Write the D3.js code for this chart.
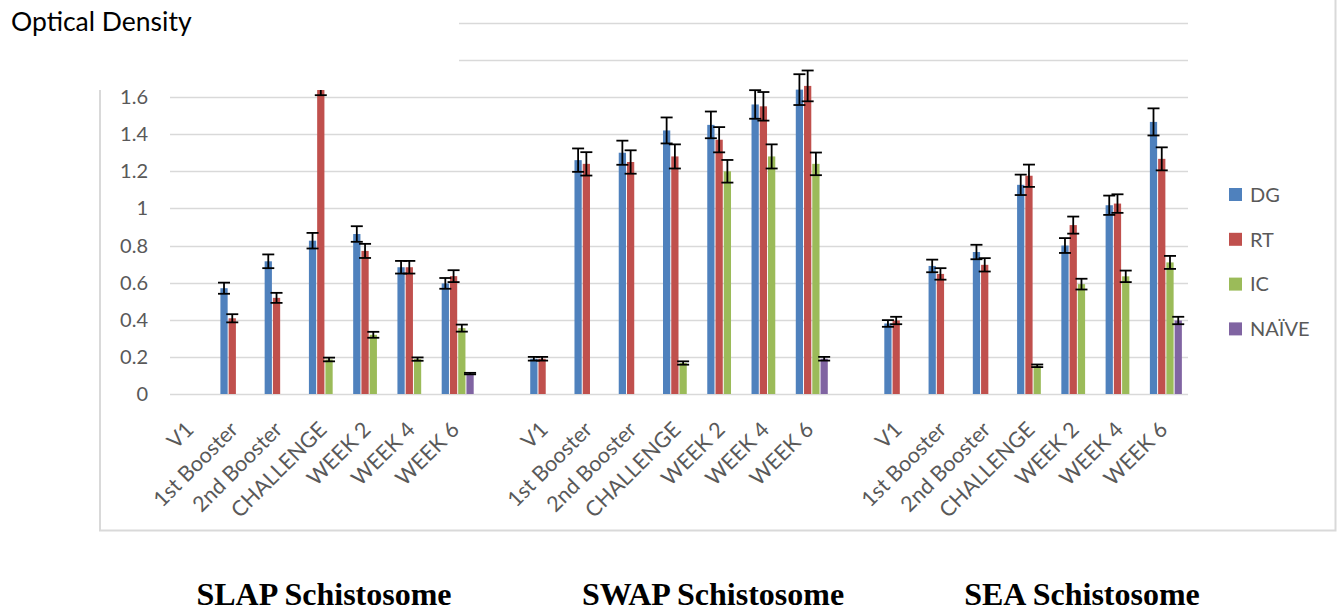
<!DOCTYPE html>
<html>
<head>
<meta charset="utf-8">
<script src="https://cdn.jsdelivr.net/npm/d3@7"></script>
<style>
  html, body { margin: 0; padding: 0; background: #ffffff; }
  svg { display: block; }
</style>
</head>
<body>
<svg id="chart" width="1341" height="611"></svg>
<script>
// ---------------- DATA ----------------
const timepoints = ["V1", "1st Booster", "2nd Booster", "CHALLENGE", "WEEK 2", "WEEK 4", "WEEK 6"];
const antigens = ["SLAP Schistosome", "SWAP Schistosome", "SEA Schistosome"];
const seriesNames = ["DG", "RT", "IC", "NAÏVE"];
const seriesColors = ["#4f81bd", "#c0504d", "#9bbb59", "#8064a2"];
const yTickValues = [0, 0.2, 0.4, 0.6, 0.8, 1, 1.2, 1.4, 1.6];
const yTickLabels = ["0", "0.2", "0.4", "0.6", "0.8", "1", "1.2", "1.4", "1.6"];
const gridValues = [0, 0.2, 0.4, 0.6, 0.8, 1, 1.2, 1.4, 1.6, 1.8, 2];

// values per antigen (SLAP, SWAP, SEA), each over the 7 timepoints (null = no bar)
const dgValues = [
  [null, 0.57, 0.715, 0.826, 0.862, 0.683, 0.596],
  [0.19, 1.26, 1.30, 1.42, 1.45, 1.56, 1.64],
  [0.38, 0.69, 0.765, 1.127, 0.80, 1.017, 1.466]
];
const dgErrors = [
  [null, 0.03, 0.037, 0.042, 0.042, 0.034, 0.029],
  [0.01, 0.063, 0.065, 0.07, 0.072, 0.077, 0.083],
  [0.018, 0.034, 0.039, 0.055, 0.04, 0.052, 0.073]
];
const rtValues = [
  [null, 0.408, 0.518, 1.66, 0.771, 0.683, 0.635],
  [0.19, 1.24, 1.25, 1.28, 1.37, 1.55, 1.66],
  [0.396, 0.647, 0.696, 1.176, 0.91, 1.026, 1.267]
];
const rtErrors = [
  [null, 0.022, 0.027, 0.05, 0.038, 0.034, 0.032],
  [0.01, 0.063, 0.063, 0.065, 0.068, 0.077, 0.083],
  [0.02, 0.031, 0.036, 0.06, 0.046, 0.05, 0.062]
];
const icValues = [
  [null, null, null, 0.186, 0.319, 0.188, 0.355],
  [null, null, null, 0.167, 1.20, 1.28, 1.24],
  [null, null, null, 0.152, 0.592, 0.634, 0.709]
];
const icErrors = [
  [null, null, null, 0.01, 0.016, 0.009, 0.019],
  [null, null, null, 0.009, 0.061, 0.065, 0.061],
  [null, null, null, 0.007, 0.029, 0.031, 0.035]
];
const naiveValues = [
  [null, null, null, null, null, null, 0.11],
  [null, null, null, null, null, null, 0.19],
  [null, null, null, null, null, null, 0.396]
];
const naiveErrors = [
  [null, null, null, null, null, null, 0.004],
  [null, null, null, null, null, null, 0.01],
  [null, null, null, null, null, null, 0.02]
];

// ---------------- BUILD ----------------
const seriesValues = [dgValues, rtValues, icValues, naiveValues];
const seriesErrors = [dgErrors, rtErrors, icErrors, naiveErrors];

const slots = [];
antigens.forEach((a, gi) => {
  if (gi > 0) slots.push({ key: "gap" + gi, gap: true });
  timepoints.forEach((t, ti) => slots.push({ key: a + "|" + t, gap: false, gi, ti, label: t }));
});

const records = [];
slots.filter(s => !s.gap).forEach(s => {
  seriesNames.forEach((sn, si) => {
    const v = seriesValues[si][s.gi][s.ti];
    if (v != null) records.push({ slot: s.key, series: sn, si, value: v, err: seriesErrors[si][s.gi][s.ti] });
  });
});

const svg = d3.select("#chart");
const FONT = "Lato, 'Open Sans', sans-serif";
const GRID = "#d9d9d9";

const plotLeft = 170, plotRight = 1188, plotBottom = 394;
const x0 = d3.scaleBand().domain(slots.map(s => s.key)).range([plotLeft, plotRight]).padding(0);
const groupW = 32;
const x1 = d3.scaleBand().domain(seriesNames).range([0, groupW]).paddingInner(0.12);
const y = d3.scaleLinear().domain([0, 2]).range([plotBottom, 22.8]);
const color = d3.scaleOrdinal().domain(seriesNames).range(seriesColors);

// chart frame
svg.append("rect")
  .attr("x", 100).attr("y", -10).attr("width", 1235.5).attr("height", 540.5)
  .attr("fill", "none").attr("stroke", GRID).attr("stroke-width", 2);

// gridlines
svg.append("g").selectAll("line").data(gridValues).join("line")
  .attr("x1", plotLeft).attr("x2", plotRight)
  .attr("y1", d => Math.round(y(d)) + 0.5).attr("y2", d => Math.round(y(d)) + 0.5)
  .attr("stroke", GRID).attr("stroke-width", 1.4);

// bars
const off = (x0.bandwidth() - groupW) / 2;
svg.append("g").selectAll("rect").data(records).join("rect")
  .attr("x", d => x0(d.slot) + off + x1(d.series))
  .attr("y", d => y(d.value))
  .attr("width", x1.bandwidth())
  .attr("height", d => y(0) - y(d.value))
  .attr("fill", d => color(d.series));

// error bars
const eb = svg.append("g").attr("stroke", "#000").attr("stroke-width", 1.8).attr("fill", "none");
records.forEach(d => {
  const cx = x0(d.slot) + off + x1(d.series) + x1.bandwidth() / 2;
  const yt = y(d.value + d.err), yb = y(d.value - d.err);
  eb.append("line").attr("x1", cx).attr("x2", cx).attr("y1", yt).attr("y2", yb);
  eb.append("line").attr("x1", cx - 6).attr("x2", cx + 6).attr("y1", yt).attr("y2", yt);
  eb.append("line").attr("x1", cx - 6).attr("x2", cx + 6).attr("y1", yb).attr("y2", yb);
});

// white title box covering top-left
svg.append("rect").attr("x", 0).attr("y", 0).attr("width", 459).attr("height", 90).attr("fill", "#fff");
svg.append("text").attr("x", 11).attr("y", 31)
  .attr("font-family", FONT).attr("font-size", 26.5).attr("fill", "#000")
  .text("Optical Density");

// y tick labels
svg.append("g").selectAll("text").data(yTickValues).join("text")
  .attr("x", 148).attr("y", d => y(d)).attr("dy", "0.35em")
  .attr("text-anchor", "end").attr("font-family", FONT).attr("font-size", 20).attr("fill", "#595959")
  .text((d, i) => yTickLabels[i]);

// x tick labels
svg.append("g").selectAll("text").data(slots.filter(s => !s.gap)).join("text")
  .attr("transform", d => `translate(${x0(d.key) + x0.bandwidth() / 2 + 3},${431}) rotate(-45)`)
  .attr("text-anchor", "end").attr("font-family", FONT).attr("font-size", 21.5).attr("fill", "#595959")
  .text(d => d.label);

// legend
const lg = svg.append("g").selectAll("g").data(seriesNames).join("g")
  .attr("transform", (d, i) => `translate(1229,${188 + i * 44.8})`);
lg.append("rect").attr("width", 13).attr("height", 13).attr("fill", d => color(d));
lg.append("text").attr("x", 21).attr("y", 6.5).attr("dy", "0.36em")
  .attr("font-family", FONT).attr("font-size", 20).attr("fill", "#595959").text(d => d);

// bottom titles
const titleCenters = [324, 713, 1082];
svg.append("g").selectAll("text").data(antigens).join("text")
  .attr("x", (d, i) => titleCenters[i]).attr("y", 605)
  .attr("text-anchor", "middle").attr("font-family", "'Liberation Serif', 'Times New Roman', serif")
  .attr("font-weight", "bold").attr("font-size", 32).attr("fill", "#000")
  .text(d => d);
</script>
</body>
</html>
